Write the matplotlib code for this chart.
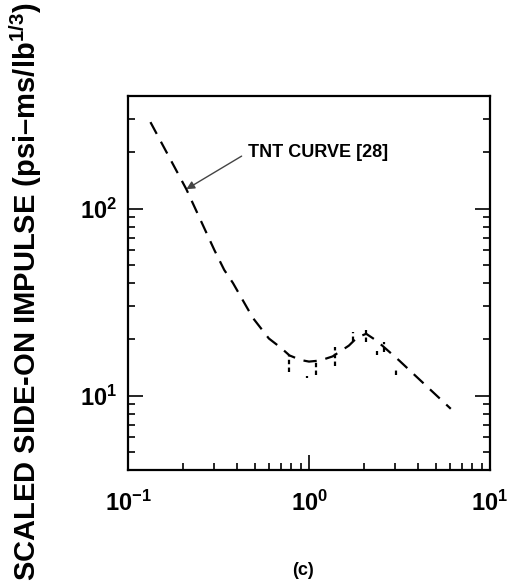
import numpy as np
import matplotlib
matplotlib.use("Agg")
import matplotlib.pyplot as plt
from matplotlib.ticker import FixedLocator, FixedFormatter, LogLocator, NullFormatter

plt.rcParams['font.family'] = ['Liberation Sans', 'DejaVu Sans']
plt.rcParams['font.weight'] = 'bold'
plt.rcParams['mathtext.fontset'] = 'custom'
plt.rcParams['mathtext.rm'] = 'Liberation Sans:bold'
plt.rcParams['mathtext.it'] = 'Liberation Sans:bold'
plt.rcParams['mathtext.bf'] = 'Liberation Sans:bold'

# TNT curve (scaled distance, scaled impulse)
curve_x = [0.133, 0.21, 0.30, 0.34, 0.38, 0.49, 0.60, 0.70, 0.78, 0.90, 1.0,
           1.15, 1.35, 1.66, 1.85, 2.07, 2.30, 2.54, 3.15, 4.0, 6.07]
curve_y = [290, 127, 60, 47, 40, 26, 20.2, 18.0, 16.4, 15.5, 15.2,
           15.4, 16.2, 18.5, 20.5, 21.4, 20.0, 18.5, 15.4, 12.4, 8.5]

# measured data: x position and vertical range
data_x = [0.774, 0.98, 1.09, 1.40, 1.74, 2.07, 2.38, 2.61, 3.02]
data_lo = [13.4, 12.4, 12.9, 14.4, 19.7, 19.3, 16.4, 17.1, 12.9]
data_hi = [16.4, 12.8, 15.1, 18.1, 21.8, 22.3, 17.4, 19.3, 13.9]

xticks = [0.1, 1, 10]
xticklabels = [r'$\mathrm{10^{-1}}$', r'$\mathrm{10^{0}}$', r'$\mathrm{10^{1}}$']
yticks = [10, 100]
yticklabels = [r'$\mathrm{10^{1}}$', r'$\mathrm{10^{2}}$']

fig = plt.figure(figsize=(5.07, 5.83), dpi=100)
ax = fig.add_axes([0.2525, 0.1938, 0.714, 0.6415])

ax.plot(curve_x, curve_y, color='black', linewidth=1.6, linestyle=(0, (6, 4)))
ax.vlines(data_x, data_lo, data_hi, color='black', linewidth=1.6, linestyles=(0, (2, 1.5)))

ax.set_xscale('log')
ax.set_yscale('log')
ax.set_xlim(0.1, 10)
ax.set_ylim(4, 400)

ax.xaxis.set_major_locator(FixedLocator(xticks))
ax.xaxis.set_major_formatter(FixedFormatter(xticklabels))
ax.yaxis.set_major_locator(FixedLocator(yticks))
ax.yaxis.set_major_formatter(FixedFormatter(yticklabels))
ax.xaxis.set_minor_locator(LogLocator(base=10, subs=np.arange(2, 10)))
ax.yaxis.set_minor_locator(LogLocator(base=10, subs=np.arange(2, 10)))
ax.xaxis.set_minor_formatter(NullFormatter())
ax.yaxis.set_minor_formatter(NullFormatter())

ax.tick_params(which='both', direction='in', right=True, top=False, width=1.2)
ax.tick_params(which='major', length=11, labelsize=17)
ax.tick_params(which='minor', length=5)
ax.tick_params(axis='x', which='major', pad=15)
ax.tick_params(axis='y', which='major', pad=8)

for s in ax.spines.values():
    s.set_linewidth(1.6)

ax.annotate('TNT CURVE [28]', xy=(0.21, 127), xytext=(0.46, 200),
            fontsize=13, fontweight='bold', ha='left', va='center',
            arrowprops=dict(arrowstyle='-|>', color='#444444', lw=1.0,
                            shrinkA=3, shrinkB=0, mutation_scale=12,
                            relpos=(0, 0.5)))

fig.text(0.05, 0.5, r'SCALED SIDE-ON IMPULSE (psi–ms/lb$^{\mathrm{1/3}}$)',
         rotation=90, fontsize=21, fontweight='bold', ha='center', va='center')
fig.text(0.598, 0.021, '(c)', fontsize=13, fontweight='bold', ha='center', va='center')

fig.savefig('out.png', dpi=100)
